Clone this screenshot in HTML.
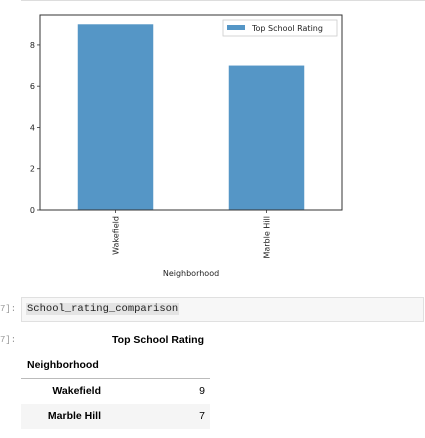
<!DOCTYPE html>
<html><head><meta charset="utf-8"><style>
body{margin:0;width:425px;height:438px;background:#fff;overflow:hidden;position:relative;font-family:"DejaVu Sans","Liberation Sans",sans-serif}
.abs{position:absolute}
.t{font-family:"Liberation Sans",sans-serif;font-size:10.5px;color:#000;font-weight:bold}
</style></head><body>
<div class="abs" style="left:21px;top:0;width:404px;height:1px;background:#ddd"></div>
<svg class="abs" style="left:0;top:0" width="425" height="290" font-family="DejaVu Sans, sans-serif">
<g id="g"></g>
</svg>
<div class="abs" style="left:0;top:304px;font-family:'Liberation Mono',monospace;font-size:9px;color:#999">7]:</div>
<div class="abs" style="left:21px;top:297px;width:403px;height:25px;background:#f7f7f7;border:1px solid #e0e0e0;box-sizing:border-box"></div>
<div class="abs" style="left:26px;top:303px;font-family:'Liberation Mono',monospace;font-size:10.5px;background:#e4e4e4;color:#222;padding:0 1px">School_rating_comparison</div>
<div class="abs" style="left:0;top:335px;font-family:'Liberation Mono',monospace;font-size:9px;color:#999">7]:</div>
<div class="abs t" style="left:100px;top:334px;width:104px;text-align:right">Top School Rating</div>
<div class="abs t" style="left:27px;top:359px">Neighborhood</div>
<div class="abs" style="left:21px;top:378px;width:189px;height:1px;background:#bbb"></div>
<div class="abs" style="left:21px;top:404px;width:189px;height:25px;background:#f5f5f5"></div>
<div class="abs t" style="left:11px;top:385px;width:90px;text-align:right">Wakefield</div>
<div class="abs t" style="left:180px;top:385px;width:25px;text-align:right;font-weight:normal">9</div>
<div class="abs t" style="left:11px;top:410px;width:90px;text-align:right">Marble Hill</div>
<div class="abs t" style="left:180px;top:410px;width:25px;text-align:right;font-weight:normal">7</div>
<script>
const categories=["Wakefield","Marble Hill"];
const values=[9,7];
const yTicks=[0,2,4,6,8];
const L=40,R=342,T=15,B=210,ymax=9.45;
const y=v=>B-(v/ymax)*(B-T);
const bw=(R-L)/categories.length;
const x=i=>L+bw*(i+0.5);
const NS="http://www.w3.org/2000/svg";
const g=document.getElementById('g');
function mk(t,a,txt){const e=document.createElementNS(NS,t);for(const k in a)e.setAttribute(k,a[k]);if(txt!=null)e.textContent=txt;g.appendChild(e);return e;}
categories.forEach((c,i)=>{
 const r=mk('rect',{x:x(i)-bw/4,y:y(values[i]),width:bw/2,height:B-y(values[i]),fill:'#5596c6'});
 
 
 mk('line',{x1:x(i),x2:x(i),y1:B,y2:B+3,stroke:'#333','stroke-width':0.8});
 const t=mk('text',{transform:`translate(${x(i)+3},${B+6}) rotate(-90)`,'text-anchor':'end','font-size':'8',fill:'#222'},c);
 
 
});
yTicks.forEach(v=>{
 mk('line',{x1:L-3,x2:L,y1:y(v),y2:y(v),stroke:'#333','stroke-width':0.8});
 const t=mk('text',{x:L-5,y:y(v)+3,'text-anchor':'end','font-size':'8',fill:'#222'},v);
 
 
});
const f=mk('rect',{x:L,y:T,width:R-L,height:B-T,fill:'none',stroke:'#333','stroke-width':1});


const xl=mk('text',{x:(L+R)/2,y:276,'text-anchor':'middle','font-size':'8',fill:'#222'},'Neighborhood');


const lg=mk('rect',{x:223,y:20,width:114,height:16,fill:'#fff',stroke:'#ccc','stroke-width':0.8});


mk('rect',{x:227,y:25,width:18,height:5,fill:'#5596c6'});
const lt=mk('text',{x:252,y:31,'font-size':'8',fill:'#222'},'Top School Rating');


</script>
</body></html>
